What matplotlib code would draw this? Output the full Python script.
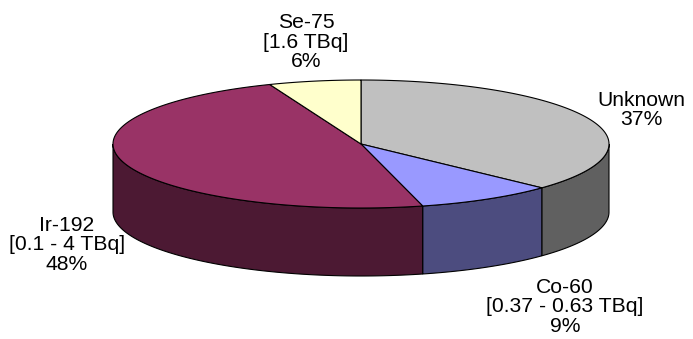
import numpy as np
import matplotlib.pyplot as plt
from matplotlib.patches import Polygon

# sources of the radiography incidents, clockwise from 12 o'clock
names = ["Unknown", "Co-60", "Ir-192", "Se-75"]
activity = ["", "[0.37 - 0.63 TBq]", "[0.1 - 4 TBq]", "[1.6 TBq]"]
share = [37, 9, 48, 6]
top_colors = ["#C0C0C0", "#9999FF", "#993366", "#FFFFCC"]
side_colors = ["#606060", "#4C4C7F", "#4C1933", "#7F7F66"]
label_pos = [(641, 110), (565, 307), (67, 245), (306, 42)]

# ellipse geometry in pixel units
cx, cy = 361, 144
rx, ry = 248, 64
depth = 68


def rim(a0, a1, n=200):
    th = np.radians(np.linspace(a0, a1, n))
    return cx + rx * np.sin(th), cy - ry * np.cos(th)


fig = plt.figure(figsize=(6.93, 3.39), dpi=100)
ax = fig.add_axes([0, 0, 1, 1])
ax.set_xlim(0, 693)
ax.set_ylim(339, 0)
ax.axis("off")

bounds = np.concatenate([[0], np.cumsum(share)]) * 3.6

# front walls
for i in range(len(share)):
    a0, a1 = max(bounds[i], 90), min(bounds[i + 1], 270)
    if a1 <= a0:
        continue
    x, y = rim(a0, a1)
    pts = np.column_stack([np.r_[x, x[::-1]], np.r_[y, y[::-1] + depth]])
    ax.add_patch(Polygon(pts, closed=True, fc=side_colors[i], ec="black", lw=0.8))

# top face
for i in range(len(share)):
    x, y = rim(bounds[i], bounds[i + 1])
    pts = np.column_stack([np.r_[cx, x], np.r_[cy, y]])
    ax.add_patch(Polygon(pts, closed=True, fc=top_colors[i], ec="black", lw=0.8))

for i in range(len(share)):
    lines = [names[i]] + ([activity[i]] if activity[i] else []) + [f"{share[i]}%"]
    ax.text(label_pos[i][0], label_pos[i][1], "\n".join(lines), ha="center", va="center",
            fontsize=15.2, family="Liberation Sans", linespacing=1.02)

plt.savefig("out.png", dpi=100)
